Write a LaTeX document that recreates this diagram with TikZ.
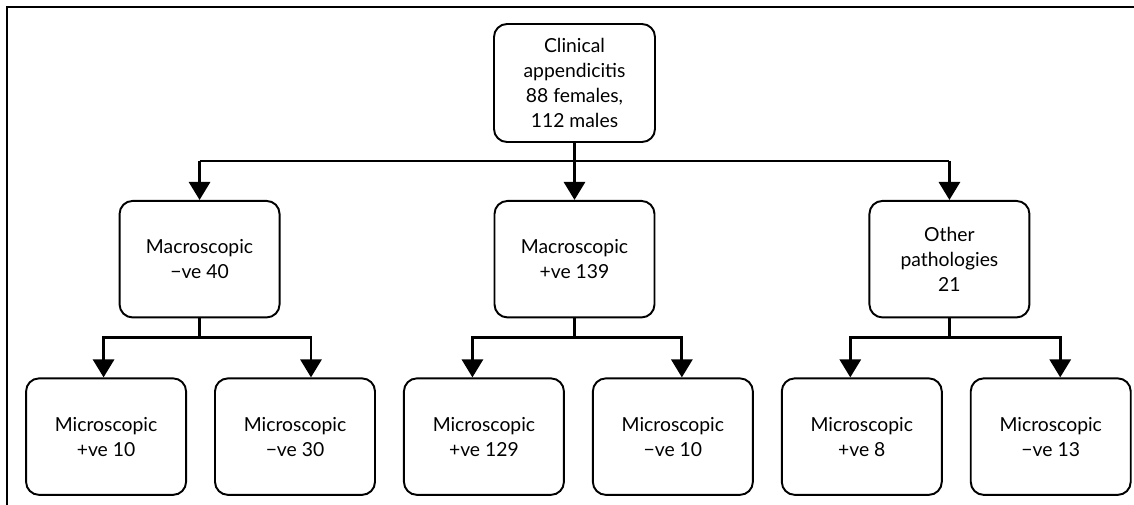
\documentclass[tikz,border=0pt]{standalone}
\usepackage{fontspec}
\setmainfont{Lato}
\usepackage{tikz}
\usetikzlibrary{calc, positioning, arrows.meta}

\begin{document}
\begin{tikzpicture}[
    box/.style={draw, line width=1.1pt, rounded corners=0.26cm, align=center,
        minimum width=3.2cm, minimum height=2.33cm, inner sep=2pt,
        font=\fontsize{11}{14.2}\selectfont},
    conn/.style={line width=1.7pt, -{Triangle[width=0.42cm,length=0.36cm]}},
    bus/.style={line width=1.5pt}
    ]
            \useasboundingbox (0,0) rectangle (22.68,-10.1);
            \draw[line width=1.1pt] (22.68,-0.14) -- (0.14,-0.14) -- (0.14,-10.1);

            \node[box, minimum width=3.22cm, minimum height=2.36cm](top) at (11.49,-1.66)
                {Clinical\\appendicitis\\88 females,\\112 males};
            \node[box](midC)[below = 1.14cm of top]{Macroscopic\\+ve 139};
            \node[box](midL)[left = 4.26cm of midC]{Macroscopic\\−ve 40};
            \node[box](midR)[right = 4.26cm of midC]{Other\\pathologies\\21};

            \node[box](b1)[below = 1.18cm of midL, xshift=-1.87cm]{Microscopic\\+ve 10};
            \node[box](b2)[right = 0.54cm of b1]{Microscopic\\−ve 30};
            \node[box](b3)[right = 0.54cm of b2]{Microscopic\\+ve 129};
            \node[box](b4)[right = 0.54cm of b3]{Microscopic\\−ve 10};
            \node[box](b5)[right = 0.54cm of b4]{Microscopic\\+ve 8};
            \node[box](b6)[right = 0.54cm of b5]{Microscopic\\−ve 13};

            % top level
            \coordinate (jt) at ($(top.south)+(0,-0.36)$);
            \draw[bus] (midL.north |- jt) -- (midR.north |- jt);
            \draw[conn] (top.south) -- (midC.north);
            \draw[conn] (midL.north |- jt) -- (midL.north);
            \draw[conn] (midR.north |- jt) -- (midR.north);

            % second level
            \foreach \m/\l/\r/\lx/\rx in {midL/b1/b2/-0.05/0.32, midC/b3/b4/-0.23/0.18, midR/b5/b6/-0.23/0.19}{
                \coordinate (j) at ($(\m.south)+(0,-0.38)$);
                \draw[bus] (\m.south) -- (j);
                \draw[conn] (j) -| ([xshift=\lx cm]\l.north);
                \draw[conn] (j) -| ([xshift=\rx cm]\r.north);
            }
        \end{tikzpicture}
\end{document}
